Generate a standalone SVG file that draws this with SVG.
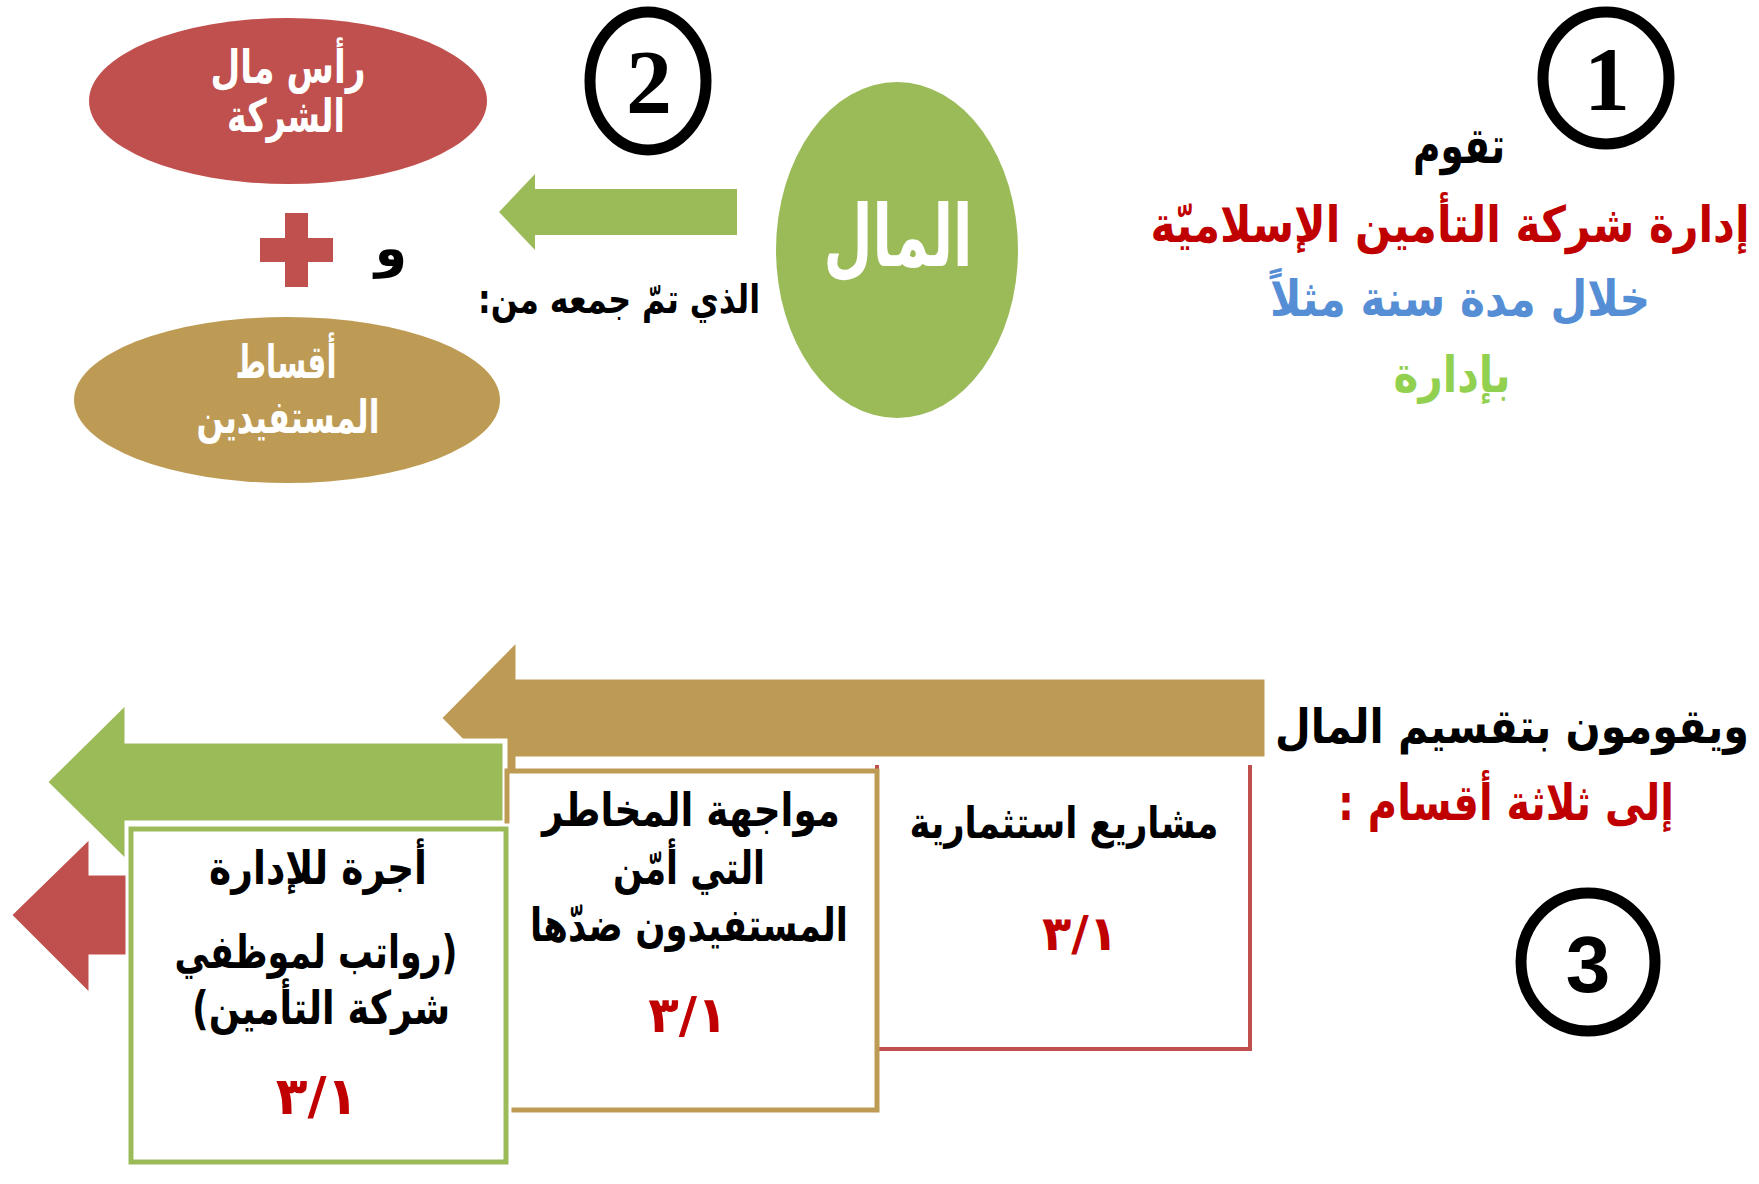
<svg xmlns="http://www.w3.org/2000/svg" width="1759" height="1184" viewBox="0 0 1759 1184">
<style>
  .ar { font-family: "DejaVu Sans", sans-serif; font-weight: bold; direction: rtl; text-anchor: middle; }
  .num { font-family: "DejaVu Sans", sans-serif; font-weight: bold; direction: ltr; text-anchor: middle; fill: #C00000; }
  .k { fill: #000; }
  .w { fill: #fff; }
  .rd { fill: #C00000; }
  .bl { fill: #558ED5; }
  .gr { fill: #92D050; }
  .ring { fill: #fff; stroke: #000; stroke-width: 11; }
  .digit { font-weight: bold; text-anchor: middle; fill: #000; }
  .arrow { stroke: #fff; stroke-width: 5; stroke-linejoin: miter; }
  .box { fill: #fff; stroke-width: 5; }
</style>

<!-- step 1 -->
<g id="step1">
  <ellipse class="ring" cx="1606" cy="78" rx="63" ry="66"/>
  <text class="digit" x="1607" y="110" font-family="'Liberation Serif', serif" font-size="92">1</text>
</g>

<g id="management-text">
  <text class="ar k" x="1459" y="163" font-size="50" textLength="92" lengthAdjust="spacingAndGlyphs">تقوم</text>
  <text class="ar rd" transform="translate(1450,242) scale(0.85,1)" x="0" y="0" font-size="50">إدارة شركة التأمين الإسلاميّة</text>
  <text class="ar bl" x="1460" y="316" font-size="50" textLength="380" lengthAdjust="spacingAndGlyphs">خلال مدة سنة مثلاً</text>
  <text class="ar gr" x="1452" y="392" font-size="50" textLength="117" lengthAdjust="spacingAndGlyphs">بإدارة</text>
</g>

<!-- money -->
<g id="money">
  <ellipse cx="897" cy="250" rx="121" ry="168" fill="#9BBB59"/>
  <text class="ar w" x="898" y="266" font-size="86" textLength="149" lengthAdjust="spacingAndGlyphs">المال</text>
</g>

<!-- step 2 -->
<g id="step2">
  <ellipse class="ring" cx="648" cy="81" rx="58" ry="69" stroke-width="10"/>
  <text class="digit" x="649" y="113" font-family="'Liberation Serif', serif" font-size="92">2</text>
</g>

<g id="collected-label">
  <text class="ar k" x="619" y="313" font-size="40" textLength="282" lengthAdjust="spacingAndGlyphs">الذي تمّ جمعه من:</text>
</g>

<g id="capital">
  <ellipse cx="288" cy="101" rx="199" ry="83" fill="#C0504D"/>
  <text class="ar w" x="288" y="83" font-size="46" textLength="155" lengthAdjust="spacingAndGlyphs">رأس مال</text>
  <text class="ar w" x="286" y="132" font-size="46" textLength="118" lengthAdjust="spacingAndGlyphs">الشركة</text>
</g>

<g id="plus">
  <rect x="260" y="238" width="73" height="24" fill="#C0504D"/>
  <rect x="285" y="213" width="23" height="74" fill="#C0504D"/>
  <text class="ar k" x="391" y="266" font-size="52">و</text>
</g>

<g id="premiums">
  <ellipse cx="287" cy="400" rx="213" ry="83" fill="#BE9B55"/>
  <text class="ar w" x="286" y="378" font-size="46" textLength="101" lengthAdjust="spacingAndGlyphs">أقساط</text>
  <text class="ar w" x="288" y="433" font-size="46" textLength="183" lengthAdjust="spacingAndGlyphs">المستفيدين</text>
</g>

<!-- step 3 -->
<g id="step3">
  <ellipse class="ring" cx="1588" cy="962" rx="67" ry="69"/>
  <text class="digit" x="1588" y="992" font-family="'Liberation Sans', sans-serif" font-size="80">3</text>
</g>

<g id="divide-text">
  <text class="ar k" transform="translate(1512,743) scale(0.86,1)" x="0" y="0" font-size="48">ويقومون بتقسيم المال</text>
  <text class="ar rd" x="1506" y="820" font-size="50" textLength="336" lengthAdjust="spacingAndGlyphs">إلى ثلاثة أقسام :</text>
</g>

<!-- investment box (top edge hidden under arrow) -->
<g id="investment">
  <path d="M877 765 V1049 H1250 V765" fill="#fff" stroke="#C0504D" stroke-width="4"/>
  <text class="ar k" x="1064" y="838" font-size="44" textLength="309" lengthAdjust="spacingAndGlyphs">مشاريع استثمارية</text>
  <text class="num" x="1080" y="950" font-size="48">٣/١</text>
</g>

<!-- connectors -->
<g id="connectors">
  <polygon fill="#9BBB59" points="737,189 535,189 535,174 499,212 535,250 535,235 737,235"/>
  <polygon class="arrow" fill="#BE9B55" stroke-width="3" points="1267,677 518,677 518,638 439,718 518,798 518,759 1267,759"/>
  <polygon class="arrow" fill="#9BBB59" points="505,741 127,741 127,701 45,782 127,863 127,823 505,823"/>
  <polygon class="arrow" fill="#C0504D" points="200,873 91,873 91,835 9,915 91,997 91,957 200,957"/>
</g>

<g id="risks">
  <rect class="box" x="507" y="771" width="370" height="339" stroke="#BE9B55"/>
  <text class="ar k" x="691" y="826" font-size="46" textLength="298" lengthAdjust="spacingAndGlyphs">مواجهة المخاطر</text>
  <text class="ar k" x="689" y="884" font-size="46" textLength="152" lengthAdjust="spacingAndGlyphs">التي أمّن</text>
  <text class="ar k" x="689" y="941" font-size="46" textLength="318" lengthAdjust="spacingAndGlyphs">المستفيدون ضدّها</text>
  <text class="num" x="688" y="1032" font-size="50">٣/١</text>
</g>

<g id="management-fee">
  <rect x="131" y="829" width="375" height="333" fill="#fff" stroke="#fff" stroke-width="11"/>
  <rect class="box" x="131" y="829" width="375" height="333" stroke="#9BBB59"/>
  <text class="ar k" x="318" y="884" font-size="46" textLength="218" lengthAdjust="spacingAndGlyphs">أجرة للإدارة</text>
  <text class="ar k" x="316" y="968" font-size="46" textLength="283" lengthAdjust="spacingAndGlyphs">(رواتب لموظفي</text>
  <text class="ar k" x="321" y="1024" font-size="46" textLength="258" lengthAdjust="spacingAndGlyphs">شركة التأمين)</text>
  <text class="num" x="317" y="1114" font-size="52">٣/١</text>
</g>
</svg>
